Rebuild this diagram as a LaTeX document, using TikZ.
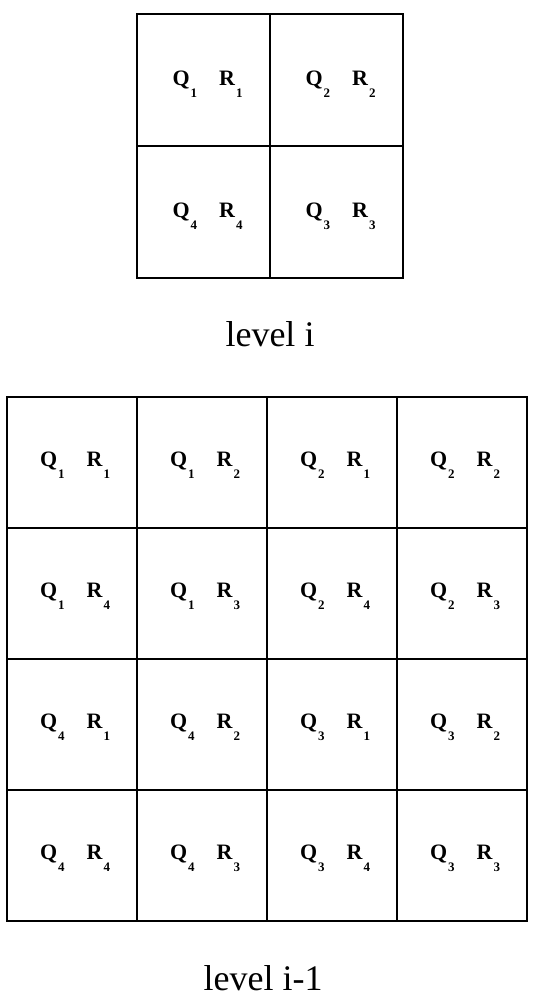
\documentclass[tikz,border=0pt]{standalone}
\usepackage{fontspec}
\setmainfont{Liberation Serif}
\newcommand\qrl[2]{Q\hspace{1pt}\raisebox{-12pt}{\fontsize{13}{13}\selectfont #1}\hspace{22pt}R\hspace{1pt}\raisebox{-12pt}{\fontsize{13}{13}\selectfont #2}}
\begin{document}
\begin{tikzpicture}[x=1pt,y=-1pt,
  cellbox/.style={draw, line width=2pt, inner sep=0pt, outer sep=0pt},
  bigcell/.style={cellbox, minimum width=133pt, minimum height=132pt},
  smallcell/.style={cellbox, minimum width=130pt, minimum height=131pt},
  qr/.style={anchor=base, inner sep=0pt, font=\fontsize{22}{22}\selectfont\bfseries},
  caption/.style={anchor=base, inner sep=0pt, font=\fontsize{36}{36}\selectfont}]
\useasboundingbox (0,0) rectangle (533,1001);
% level i
\foreach \r/\c/\cx/\cy/\q/\rr in {1/1/203.5/80/1/1, 1/2/336.5/80/2/2, 2/1/203.5/212/4/4, 2/2/336.5/212/3/3}{
  \node[bigcell] (top\r\c) at (\cx,\cy) {};
  \node[qr] (toplab\r\c) at (\cx+4,\cy+5) {\qrl{\q}{\rr}};
}
\node[caption] (cap1) at (270,346) {level i};
% level i-1
\foreach \r/\cy/\la/\lb/\lc/\ld in {1/462.5/1/1/1/2, 2/593.5/1/4/1/3, 3/724.5/4/1/4/2, 4/855.5/4/4/4/3}{
  \node[smallcell] (bot\r1) at (72,\cy) {};
  \node[smallcell] (bot\r2) at (202,\cy) {};
  \node[qr] (botlab\r1) at (75,\cy+4) {\qrl{\la}{\lb}};
  \node[qr] (botlab\r2) at (205,\cy+4) {\qrl{\lc}{\ld}};
}
\foreach \r/\cy/\la/\lb/\lc/\ld in {1/462.5/2/1/2/2, 2/593.5/2/4/2/3, 3/724.5/3/1/3/2, 4/855.5/3/4/3/3}{
  \node[smallcell] (bot\r3) at (332,\cy) {};
  \node[smallcell] (bot\r4) at (462,\cy) {};
  \node[qr] (botlab\r3) at (335,\cy+4) {\qrl{\la}{\lb}};
  \node[qr] (botlab\r4) at (465,\cy+4) {\qrl{\lc}{\ld}};
}
\node[caption] (cap2) at (263,990) {level i-1};
\end{tikzpicture}
\end{document}
